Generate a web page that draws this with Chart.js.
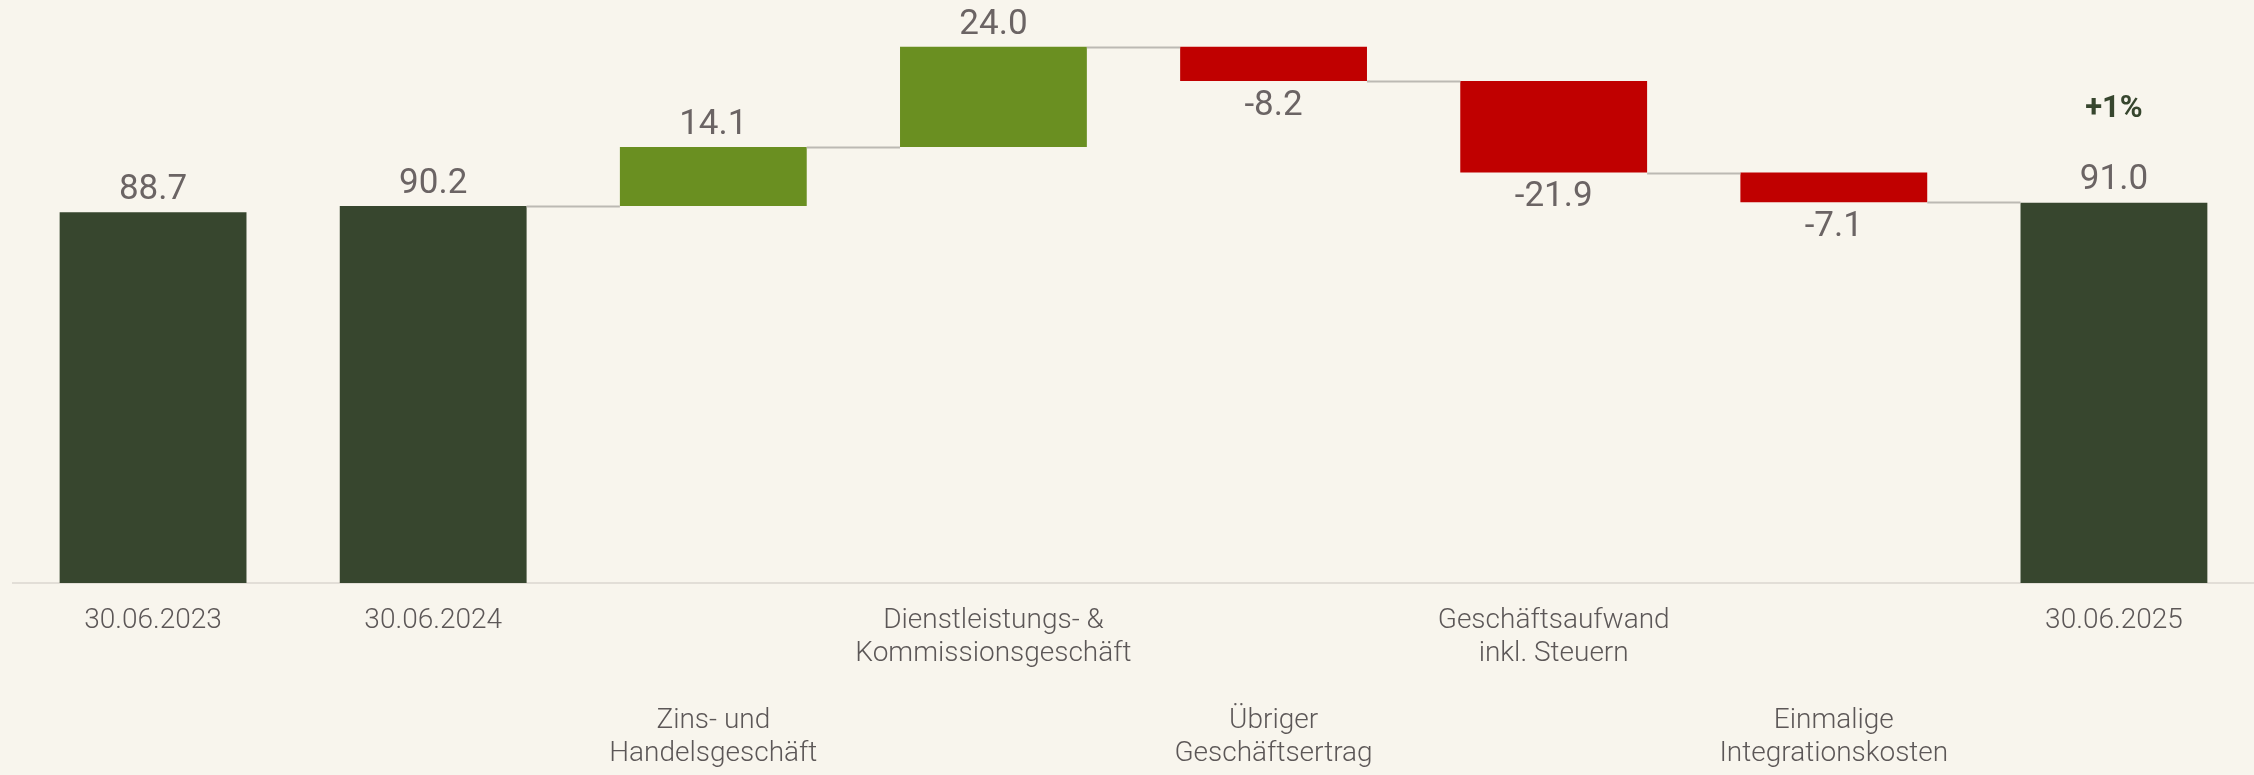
<!DOCTYPE html>
<html>
<head>
<meta charset="utf-8">
<script src="https://cdn.jsdelivr.net/npm/chart.js@4"></script>
<style>
  html, body { margin: 0; padding: 0; background: #f8f5ed; }
</style>
</head>
<body>
<canvas id="chart" width="2254" height="775"></canvas>
<script>
// category labels, one array of lines per bar
const categories = [
    ['30.06.2023'],
    ['30.06.2024'],
    ['Zins- und', 'Handelsgeschäft'],
    ['Dienstleistungs- &', 'Kommissionsgeschäft'],
    ['Übriger', 'Geschäftsertrag'],
    ['Geschäftsaufwand', 'inkl. Steuern'],
    ['Einmalige', 'Integrationskosten'],
    ['30.06.2025'],
];
const values = [88.7, 90.2, 14.1, 24.0, -8.2, -21.9, -7.1, 91.0];
const isTotal = [true, true, false, false, false, false, false, true];
const lowerRow = [false, false, true, false, true, false, true, false];
const changeLabel = '+1%';

const colTotal = '#37462e';
const colUp = '#6a8f21';
const colDown = '#c00000';

// build floating bars [start, end]
let running = 0;
const floating = values.map((v, i) => {
    if (isTotal[i]) { running = v; return [0, v]; }
    let start = running;
    running = running + v;
    return [start, running];
});
const colors = values.map((v, i) => isTotal[i] ? colTotal : (v >= 0 ? colUp : colDown));
const tickLabels = categories.map((lines, i) => lowerRow[i] ? ['', '', ''].concat(lines) : lines);

const waterfallExtras = {
    id: 'waterfallExtras',
    afterDatasetsDraw(chart) {
        let ctx = chart.ctx;
        let meta = chart.getDatasetMeta(0);
        let y = chart.scales.y;

        // connectors between bars
        ctx.save();
        ctx.strokeStyle = '#bcb9b3';
        ctx.lineWidth = 2;
        for (let i = 1; i < meta.data.length - 1; i++) {
            let a = meta.data[i], b = meta.data[i + 1];
            let py = Math.round(y.getPixelForValue(floating[i][1])) + 0.5;
            ctx.beginPath();
            ctx.moveTo(a.x + a.width / 2, py);
            ctx.lineTo(b.x - b.width / 2, py);
            ctx.stroke();
        }
        ctx.restore();

        // value labels
        ctx.save();
        ctx.textAlign = 'center';
        ctx.textBaseline = 'middle';
        ctx.font = '400 35px Roboto';
        ctx.fillStyle = '#6b6464';
        meta.data.forEach((bar, i) => {
            let top = Math.min(bar.y, bar.base);
            let bottom = Math.max(bar.y, bar.base);
            let v = values[i];
            let txt = (v < 0 ? '-' : '') + Math.abs(v).toFixed(1);
            if (v >= 0) ctx.fillText(txt, bar.x, top - 22);
            else ctx.fillText(txt, bar.x, bottom + 25);
        });
        let last = meta.data[meta.data.length - 1];
        ctx.font = '700 31px Roboto';
        ctx.fillStyle = colTotal;
        ctx.fillText(changeLabel, last.x, Math.min(last.y, last.base) - 93);
        ctx.restore();
    }
};

new Chart(document.getElementById('chart'), {
    type: 'bar',
    data: {
        labels: tickLabels,
        datasets: [
            {
                data: floating,
                backgroundColor: colors,
                borderWidth: 0,
                categoryPercentage: 1,
                barPercentage: 0.667,
            },
        ],
    },
    options: {
        responsive: false,
        animation: false,
        devicePixelRatio: 1,
        layout: {
            padding: { left: 13, right: 0, top: 0, bottom: 0 },
        },
        plugins: {
            legend: { display: false },
            tooltip: { enabled: false },
        },
        scales: {
            x: {
                offset: true,
                grid: { display: false, drawTicks: false },
                border: { display: true, color: '#e2ded7', width: 2 },
                afterFit: (scale) => { scale.height = 192; },
                ticks: {
                    autoSkip: false,
                    maxRotation: 0,
                    padding: 21,
                    color: '#5c5757',
                    font: { family: 'Roboto', size: 28, weight: 300, lineHeight: 1.19 },
                },
            },
            y: {
                display: false,
                min: 0,
                max: 139.5,
            },
        },
    },
    plugins: [waterfallExtras],
});
</script>
</body>
</html>
